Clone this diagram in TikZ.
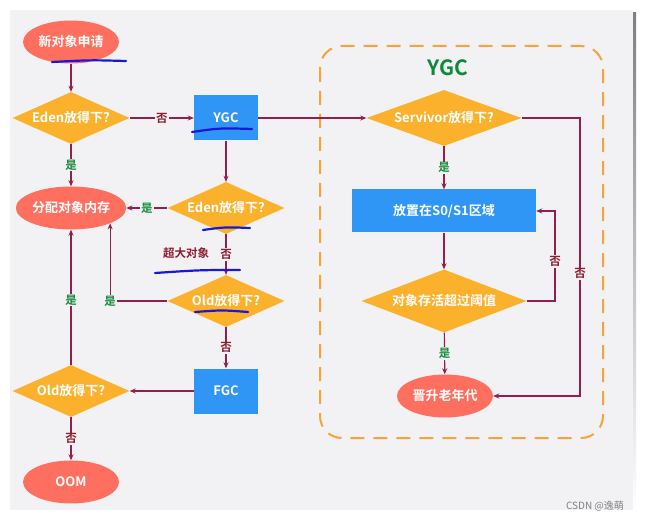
\documentclass[tikz,border=0pt]{standalone}
\usepackage{fontspec}
\setmainfont{Noto Sans CJK SC}[BoldFont={Noto Sans CJK SC Bold}]
\usetikzlibrary{shapes.geometric,arrows.meta}
\definecolor{panel}{HTML}{F2F2F4}
\definecolor{shade}{HTML}{B4B4B8}
\definecolor{salmon}{HTML}{FF6F60}
\definecolor{amber}{HTML}{FCB12C}
\definecolor{skyblue}{HTML}{3096F6}
\definecolor{linec}{RGB}{145,32,78}
\definecolor{yesgreen}{HTML}{1A8C3C}
\definecolor{nored}{HTML}{8E1C2C}
\definecolor{frameor}{HTML}{F8A238}
\definecolor{titlegreen}{HTML}{0E8A3A}
\definecolor{pen}{HTML}{1818D8}

\begin{document}
\begin{tikzpicture}[x=1pt,y=-1pt]
  \tikzset{every node/.style={font=\bfseries\fontsize{13}{15}\selectfont},
    oval/.style={ellipse,fill=salmon,text=white,inner sep=0pt,minimum width=96pt,minimum height=43pt},
    ask/.style={diamond,fill=amber,text=white,inner sep=0pt,aspect=2.5},
    job/.style={rectangle,fill=skyblue,text=white,inner sep=0pt},
    arr/.style={draw=linec,line width=1.2pt,-{Stealth[length=6pt,width=5pt]}},
    yes/.style={fill=panel,text=yesgreen,inner sep=1pt,font=\bfseries\fontsize{11.5}{13}\selectfont},
    no/.style={fill=panel,text=nored,inner sep=1pt,font=\bfseries\fontsize{11.5}{13}\selectfont},
    pen/.style={draw=pen,line width=2.2pt,line cap=round}}%hand-drawn marks
\useasboundingbox (0,0) rectangle (645,521);
\fill[white] (0,0) rectangle (645,521);
\fill[shade] (13,13) rectangle (636,513);
\fill[panel] (10,10) rectangle (633,510);
% YGC frame
\draw[frameor,line width=2pt,dash pattern=on 14pt off 9pt,rounded corners=22pt] (320,46) rectangle (603,438);
\node[text=titlegreen,font=\bfseries\fontsize{21}{24}\selectfont] (title) at (448,68) {YGC};
% left part
\node[oval] (new) at (71,42) {新对象申请};
\node[ask,minimum width=117pt,minimum height=52pt] (eden1) at (71,118) {Eden放得下?};
\node[job,minimum width=64pt,minimum height=45pt] (ygc) at (226,118) {YGC};
\node[oval] (alloc) at (71,208) {分配对象内存};
\node[ask,minimum width=117pt,minimum height=52pt] (eden2) at (226,208) {Eden放得下?};
\node[ask,minimum width=117pt,minimum height=52pt] (old1) at (226,301) {Old放得下?};
\node[job,minimum width=64pt,minimum height=45pt] (fgc) at (226,391) {FGC};
\node[ask,minimum width=117pt,minimum height=52pt] (old2) at (71,391) {Old放得下?};
\node[oval] (oom) at (71,482) {OOM};
% right part
\node[ask,minimum width=155pt,minimum height=56pt] (surv) at (444,118) {Servivor放得下?};
\node[job,minimum width=184pt,minimum height=43pt] (s01) at (444,211) {放置在S0/S1区域};
\node[ask,minimum width=165pt,minimum height=63pt] (age) at (444,301) {对象存活超过阈值};
\node[oval] (promo) at (445,396) {晋升老年代};
\coordinate (c1) at (555,301);
\coordinate (c2) at (580,118);
\draw[arr] (new) -- (eden1);
\draw[arr] (eden1) -- node[no]{否} (ygc);
\draw[arr] (eden1) -- node[yes]{是} (alloc);
\draw[arr] (ygc) -- (surv);
\draw[arr] (ygc) -- (eden2);
\draw[arr] (eden2) -- node[yes]{是} (alloc);
\draw[arr] (eden2) -- node[no]{否} (old1);
\node[text=nored,font=\bfseries\fontsize{11.5}{13}\selectfont] (big) at (186,253) {超大对象};
\draw[arr] (old1.west) -| node[yes,pos=0.5]{是} (alloc.south east);
\draw[arr] (old1) -- node[no]{否} (fgc);
\draw[arr] (fgc) -- (old2);
\draw[arr] (old2) -- node[yes,pos=0.48]{是} (alloc);
\draw[arr] (old2) -- node[no]{否} (oom);
\draw[arr] (surv) -- node[yes]{是} (s01);
\draw[arr] (s01) -- (age);
\draw[arr] (age) -- node[yes]{是} (promo);
\draw[arr] (age.east) -- (c1) |- node[no,pos=0.22]{否} (s01.east);
\draw[arr] (surv.east) -- (c2) |- node[no,pos=0.28]{否} (promo.east);
% blue marks
\draw[pen] (52,62) .. controls (90,60) .. (126,61);
\draw[pen] (192,132) .. controls (220,128) .. (252,129);
\draw[pen] (203,230) .. controls (225,227) .. (250,228);
\draw[pen] (155,273) .. controls (200,270) .. (240,270);
\draw[pen] (195,312) .. controls (222,310) .. (248,312);
\node[text=gray,font=\fontsize{10}{12}\selectfont] (mark) at (595,506) {CSDN @逸萌};
\end{tikzpicture}
\end{document}
